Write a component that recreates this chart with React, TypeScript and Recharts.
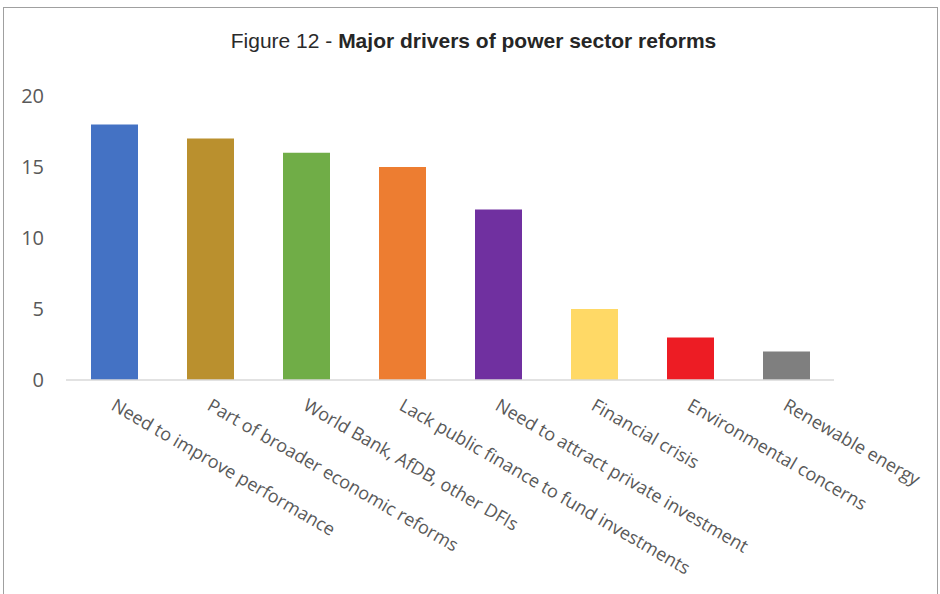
import React from "react";
import { BarChart, Bar, XAxis, YAxis, Cell } from "recharts";

const categories = [
  "Need to improve performance",
  "Part of broader economic reforms",
  "World Bank, AfDB, other DFIs",
  "Lack public finance to fund investments",
  "Need to attract private investment",
  "Financial crisis",
  "Environmental concerns",
  "Renewable energy",
];
const values = [18, 17, 16, 15, 12, 5, 3, 2];
const colors = ["#4472C4", "#BA902E", "#70AD47", "#ED7D31", "#7030A0", "#FFD966", "#ED1C24", "#7F7F7F"];
const yTicks = [0, 5, 10, 15, 20];

const data = categories.map((name, i) => ({ name, value: values[i] }));

const CatTick = (props: any) => {
  const { x, y, payload } = props;
  const ax = x - 4;
  const ay = y + 21;
  return (
    <text
      x={ax}
      y={ay}
      transform={`rotate(30, ${ax}, ${ay})`}
      textAnchor="start"
      fill="#595959"
      fontSize={18}
      fontFamily="'Open Sans', sans-serif"
    >
      {payload.value}
    </text>
  );
};

export default function App() {
  return (
    <div style={{ position: "absolute", left: 0, top: 0, width: 940, height: 594, background: "#fff" }}>
      <div
        style={{
          position: "absolute",
          left: 3,
          top: 7,
          width: 933,
          height: 600,
          borderLeft: "1px solid #a0a0a0",
          borderTop: "1px solid #a0a0a0",
          borderRight: "1px solid #a0a0a0",
        }}
      />
      <div
        style={{
          position: "absolute",
          left: 0,
          top: 29,
          width: 947,
          textAlign: "center",
          fontFamily: "'Liberation Sans', Arial, sans-serif",
          fontSize: 21,
          lineHeight: "24px",
          color: "#2a2a2a",
        }}
      >
        Figure 12 - <span style={{ fontWeight: 700, color: "#262626" }}>Major drivers of power sector reforms</span>
      </div>
      <div style={{ position: "absolute", left: 0, top: 0 }}>
        <BarChart
          width={940}
          height={594}
          data={data}
          margin={{ top: 96, right: 106, bottom: 4, left: 16 }}
          barCategoryGap={0}
        >
          <XAxis
            dataKey="name"
            interval={0}
            tickLine={false}
            axisLine={{ stroke: "#d9d9d9", strokeWidth: 1.5 }}
            tick={<CatTick />}
            height={210}
          />
          <YAxis
            width={50}
            domain={[0, 20]}
            ticks={yTicks}
            axisLine={false}
            tickLine={false}
            tickSize={0}
            tickMargin={22}
            tick={{ fill: "#595959", fontSize: 20, fontFamily: "'Open Sans', sans-serif" }}
          />
          <Bar dataKey="value" barSize={47} isAnimationActive={false}>
            {data.map((d, i) => (
              <Cell key={d.name} fill={colors[i]} />
            ))}
          </Bar>
        </BarChart>
      </div>
    </div>
  );
}
